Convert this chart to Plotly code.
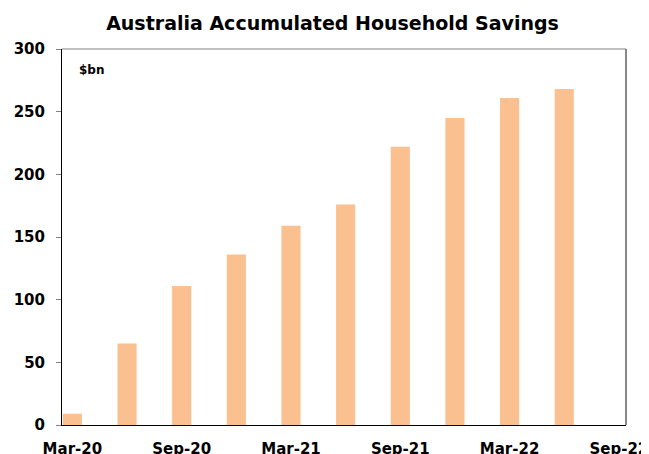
import plotly.graph_objects as go

quarters = ["Mar-20", "Jun-20", "Sep-20", "Dec-20", "Mar-21", "Jun-21",
            "Sep-21", "Dec-21", "Mar-22", "Jun-22", "Sep-22"]
savings = [9, 65, 111, 136, 159, 176, 222, 245, 261, 268]
tick_labels = ["Mar-20", "Sep-20", "Mar-21", "Sep-21", "Mar-22", "Sep-22"]

x_idx = list(range(len(savings)))
tick_pos = [quarters.index(t) for t in tick_labels]

fig = go.Figure(go.Bar(x=x_idx, y=savings, width=0.35,
                       marker=dict(color="#FAC090", line=dict(width=0))))

# page body has an 8px margin, so figure coords = page coords - 8
fig.update_layout(
    width=649, height=454,
    margin=dict(l=54, r=31, t=41, b=37),
    paper_bgcolor="white", plot_bgcolor="white",
    showlegend=False,
    title=dict(text="<b>Australia Accumulated Household Savings</b>",
               x=0.5, xanchor="center", y=0.966, yanchor="middle",
               font=dict(family="DejaVu Sans", size=19, color="black")),
    font=dict(family="DejaVu Sans", color="black"),
)
fig.update_xaxes(range=[-0.19, 10.13], tickmode="array", tickvals=tick_pos,
                 ticktext=["<b>%s</b>" % t for t in tick_labels],
                 tickfont=dict(size=15), showgrid=False, zeroline=False,
                 showline=True, linecolor="black", linewidth=1, ticks="",
                 ticklabelstandoff=10, automargin=False)
fig.update_yaxes(range=[0, 300], dtick=50, tickfont=dict(size=15),
                 tickprefix="<b>", ticksuffix="</b>",
                 showgrid=False, zeroline=False, showline=True,
                 linecolor="black", linewidth=1, ticks="outside",
                 ticklen=5, tickcolor="#808080", ticklabelstandoff=8,
                 automargin=False)
# top and right frame lines
fig.add_shape(type="line", xref="paper", yref="paper", x0=0, x1=1, y0=1, y1=1,
              line=dict(color="#808080", width=1))
fig.add_shape(type="line", xref="paper", yref="paper", x0=1, x1=1, y0=0, y1=1,
              line=dict(color="#606060", width=1.5))
fig.add_annotation(text="<b>$bn</b>", xref="paper", yref="paper",
                   x=0.026, y=0.944, xanchor="left", yanchor="middle",
                   showarrow=False, font=dict(size=12, color="black"))

fig.write_html("out.html")
